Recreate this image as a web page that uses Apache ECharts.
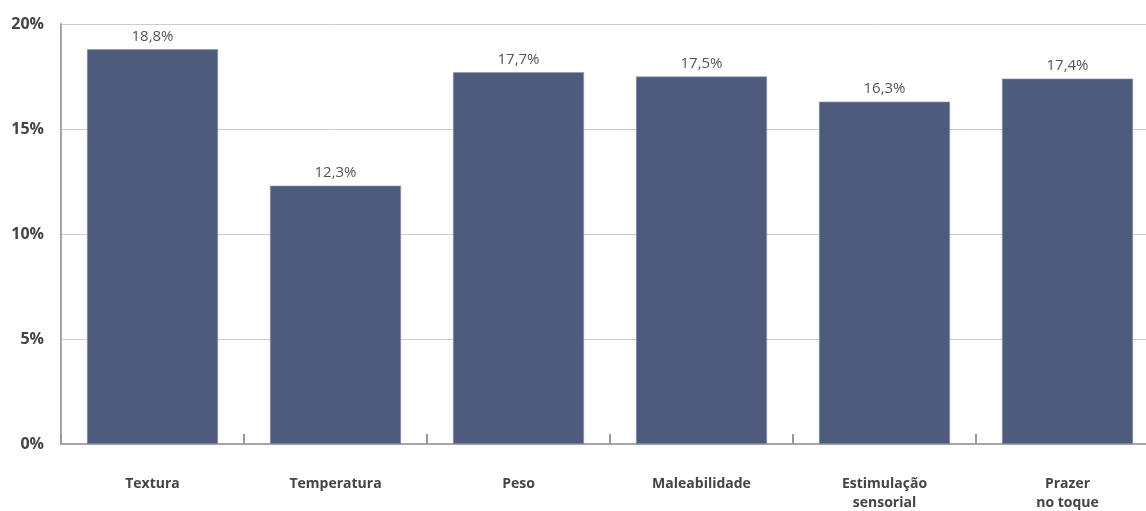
<!DOCTYPE html>
<html><head><meta charset="utf-8">
<script src="https://cdn.jsdelivr.net/npm/echarts@6/dist/echarts.min.js"></script>
<style>html,body{margin:0;padding:0;background:#fff}#c{width:1146px;height:511px}</style>
</head><body><div id="c"></div>
<script>
const categories = ["Textura", "Temperatura", "Peso", "Maleabilidade", "Estimulação\nsensorial", "Prazer\nno toque"];
const values = [18.8, 12.3, 17.7, 17.5, 16.3, 17.4];
const yTicks = [0, 5, 10, 15, 20];

const chart = echarts.init(document.getElementById('c'));
chart.setOption({
  animation: false,
  grid: { left: 61, width: 1098, top: 24, height: 420, containLabel: false, outerBoundsMode: 'none' },
  xAxis: {
    type: 'category', data: categories,
    axisLine: { lineStyle: { color: '#a6a6a6', width: 2 } },
    axisTick: { show: true, inside: true, length: 10, alignWithLabel: false, lineStyle: { color: '#999', width: 2 } },
    axisLabel: { margin: 31, color: '#444', fontFamily: 'Open Sans', fontWeight: 'bold', fontSize: 14, lineHeight: 19, interval: 0 }
  },
  yAxis: {
    type: 'value', min: 0, max: 20, interval: 5,
    axisLine: { show: true, lineStyle: { color: '#a6a6a6', width: 2 } },
    axisTick: { show: false },
    splitLine: { lineStyle: { color: '#cccccc', width: 1 } },
    axisLabel: { margin: 17, color: '#444', fontFamily: 'Open Sans', fontWeight: 'bold', fontSize: 16, formatter: v => yTicks.includes(v) ? v + '%' : '' }
  },
  series: [{
    type: 'bar', data: values, barWidth: 131,
    itemStyle: { color: '#4f5b7d', borderColor: '#8a93ad', borderWidth: 0.6 },
    label: { show: true, position: 'top', distance: 5, color: '#555', fontFamily: 'Open Sans', fontSize: 15,
      formatter: p => String(p.value).replace('.', ',') + '%' }
  }]
});
</script></body></html>
